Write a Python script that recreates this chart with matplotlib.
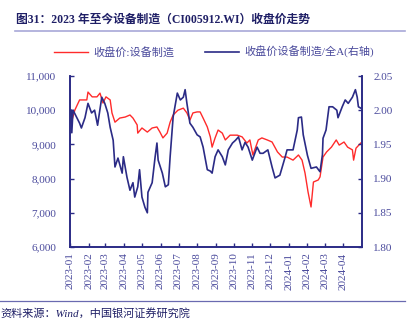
import pandas as pd
import matplotlib.pyplot as plt
import matplotlib.dates as mdates
from matplotlib.ticker import FuncFormatter, MultipleLocator

plt.rcParams['font.family'] = ['Liberation Serif', 'Noto Sans CJK SC']

# 收盘价:设备制造 (left axis)
red_dates = ['2023-01-03', '2023-01-09', '2023-01-17', '2023-01-29', '2023-01-31', '2023-02-07',
             '2023-02-15', '2023-02-20', '2023-02-25', '2023-03-02', '2023-03-09', '2023-03-12',
             '2023-03-17', '2023-03-25', '2023-04-03', '2023-04-11', '2023-04-16', '2023-04-23',
             '2023-04-24', '2023-05-01', '2023-05-10', '2023-05-18', '2023-05-26', '2023-05-31',
             '2023-06-05', '2023-06-12', '2023-06-17', '2023-06-22', '2023-06-30', '2023-07-09',
             '2023-07-15', '2023-07-20', '2023-07-25', '2023-08-01', '2023-08-06', '2023-08-11',
             '2023-08-18', '2023-08-23', '2023-08-26', '2023-08-31', '2023-09-05', '2023-09-12',
             '2023-09-17', '2023-09-25', '2023-10-07', '2023-10-15', '2023-10-23', '2023-10-28',
             '2023-11-02', '2023-11-11', '2023-11-17', '2023-11-26', '2023-12-04', '2023-12-13',
             '2023-12-21', '2023-12-29', '2024-01-08', '2024-01-17', '2024-01-23', '2024-01-28',
             '2024-02-02', '2024-02-07', '2024-02-11', '2024-02-19', '2024-02-22', '2024-02-27',
             '2024-03-04', '2024-03-12', '2024-03-20', '2024-03-25', '2024-04-02', '2024-04-08',
             '2024-04-16', '2024-04-18', '2024-04-22', '2024-04-30']
red_vals = [9626, 10000, 10300, 10300, 10530, 10390,
            10390, 10500, 10210, 10390, 10300, 9920,
            9650, 9770, 9800, 9860, 9770, 9570,
            9330, 9480, 9360, 9480, 9510, 9360,
            9190, 9330, 9650, 9860, 10000, 10060,
            9920, 9710, 9920, 9950, 9950, 9770,
            9510, 9220, 8920, 9190, 9420, 9330,
            9130, 9270, 9270, 9220, 9040, 9130,
            8690, 9130, 9190, 9130, 9070, 8780,
            8630, 8630, 8540, 8690, 8540, 8160,
            7610, 7170, 7900, 7960, 8050, 8630,
            8780, 8920, 9130, 8980, 9070, 8920,
            8840, 8540, 8890, 9040]

# 收盘价设备制造/全A (right axis)
blue_dates = ['2023-01-03', '2023-01-04', '2023-01-06', '2023-01-09', '2023-01-17', '2023-01-20',
              '2023-01-26', '2023-01-31', '2023-02-06', '2023-02-11', '2023-02-16', '2023-02-23',
              '2023-02-28', '2023-03-05', '2023-03-09', '2023-03-14', '2023-03-17', '2023-03-22',
              '2023-03-29', '2023-03-31', '2023-04-06', '2023-04-11', '2023-04-16', '2023-04-19',
              '2023-04-24', '2023-04-27', '2023-05-01', '2023-05-06', '2023-05-10', '2023-05-11',
              '2023-05-18', '2023-05-23', '2023-05-26', '2023-05-28', '2023-06-04', '2023-06-09',
              '2023-06-14', '2023-06-17', '2023-06-22', '2023-06-29', '2023-07-04', '2023-07-09',
              '2023-07-12', '2023-07-15', '2023-07-20', '2023-07-25', '2023-08-01', '2023-08-06',
              '2023-08-11', '2023-08-18', '2023-08-23', '2023-08-26', '2023-08-31', '2023-09-05',
              '2023-09-12', '2023-09-17', '2023-09-22', '2023-09-29', '2023-10-04', '2023-10-09',
              '2023-10-15', '2023-10-20', '2023-10-25', '2023-11-01', '2023-11-09', '2023-11-14',
              '2023-11-19', '2023-11-27', '2023-12-04', '2023-12-09', '2023-12-17', '2023-12-26',
              '2023-12-29', '2024-01-08', '2024-01-15', '2024-01-17', '2024-01-22', '2024-01-25',
              '2024-02-01', '2024-02-07', '2024-02-16', '2024-02-22', '2024-02-26', '2024-02-27',
              '2024-03-03', '2024-03-08', '2024-03-14', '2024-03-21', '2024-03-23', '2024-03-30',
              '2024-04-04', '2024-04-09', '2024-04-16', '2024-04-21', '2024-04-24', '2024-04-26',
              '2024-04-30']
blue_vals = [2.000, 1.967, 2.000, 1.995, 1.981, 1.974,
             1.989, 2.010, 1.996, 2.000, 1.978, 2.019,
             2.010, 1.996, 1.975, 1.956, 1.917, 1.930,
             1.908, 1.932, 1.902, 1.883, 1.894, 1.873,
             1.888, 1.913, 1.873, 1.858, 1.850, 1.880,
             1.894, 1.932, 1.952, 1.927, 1.908, 1.888,
             1.891, 1.932, 1.990, 2.025, 2.015, 2.019,
             2.030, 2.010, 1.981, 1.975, 1.964, 1.961,
             1.946, 1.913, 1.911, 1.908, 1.932, 1.942,
             1.932, 1.920, 1.942, 1.952, 1.956, 1.961,
             1.942, 1.953, 1.946, 1.927, 1.946, 1.937,
             1.937, 1.942, 1.917, 1.901, 1.905, 1.932,
             1.942, 1.942, 1.971, 1.989, 1.990, 1.964,
             1.934, 1.915, 1.917, 1.910, 1.935, 1.959,
             1.971, 2.005, 2.005, 2.000, 1.989, 2.005,
             2.015, 2.010, 2.019, 2.030, 2.019, 2.005,
             2.003]

month_ticks = pd.date_range('2023-01-01', '2024-04-01', freq='MS')

navy = '#2b2b86'
label_col = '#4a4a9c'
red = '#ff2b2b'

fig = plt.figure(figsize=(4.12, 3.21), dpi=100)
ax = fig.add_axes([70 / 412, 1 - 247 / 321, 292 / 412, 171 / 321])
ax2 = ax.twinx()

l1, = ax.plot(pd.to_datetime(red_dates), red_vals, color=red, lw=1.0)
l2, = ax2.plot(pd.to_datetime(blue_dates), blue_vals, color=navy, lw=1.2)

ax.set_xlim(pd.Timestamp('2023-01-01'), pd.Timestamp('2024-05-02'))
ax.set_ylim(6000, 11000)
ax.yaxis.set_major_locator(MultipleLocator(1000))
ax.yaxis.set_major_formatter(FuncFormatter(lambda v, p: '{:,.0f}'.format(v)))
ax2.set_ylim(1.80, 2.05)
ax2.yaxis.set_major_locator(MultipleLocator(0.05))
ax2.yaxis.set_major_formatter(FuncFormatter(lambda v, p: '{:.2f}'.format(v)))

ax.set_xticks(month_ticks)
ax.xaxis.set_major_formatter(mdates.DateFormatter('%Y-%m'))
for lab in ax.get_xticklabels():
    lab.set_rotation(90)

for a in (ax, ax2):
    for s in a.spines.values():
        s.set_color(navy)
        s.set_linewidth(1.2)
    a.spines['top'].set_visible(False)
    a.tick_params(direction='in', length=3, width=1, color=navy, labelcolor=label_col,
                  labelsize=8)
ax.tick_params(axis='x', labelsize=8, pad=4)
ax.tick_params(axis='y', pad=10)
ax2.tick_params(axis='y', pad=8)

fig.legend([l1, l2], ['收盘价:设备制造', '收盘价设备制造/全A(右轴)'], loc='center',
           bbox_to_anchor=(0.52, 1 - 52 / 321), ncol=2, frameon=False, fontsize=8,
           handlelength=3.0, columnspacing=2.8, handletextpad=0.5, labelcolor=label_col)

fig.text(16 / 412, 1 - 20 / 321, '图31：2023 年至今设备制造（CI005912.WI）收盘价走势',
         fontsize=8.5, fontweight='bold', color='#1f1f66', va='center')
fig.add_artist(plt.Line2D([15 / 412, 405 / 412], [1 - 31 / 321] * 2, color='#a8a8d8', lw=1.2))
fig.add_artist(plt.Line2D([0, 405 / 412], [1 - 301 / 321] * 2, color='#6a6ab0', lw=0.9))
fig.text(0, 1 - 313 / 321, '资料来源：Wind，中国银河证券研究院', fontsize=8, style='italic',
         color='#1f1f66', va='center')

fig.savefig('out.png', dpi=100)
